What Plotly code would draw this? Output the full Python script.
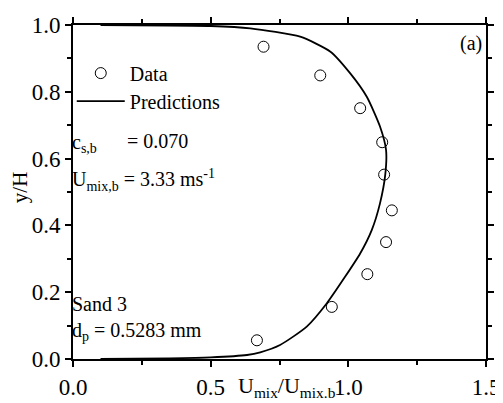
import plotly.graph_objects as go

# Data points
data_x = [0.692, 0.898, 1.043, 1.123, 1.130, 1.158, 1.137, 1.069, 0.940, 0.668]
data_y = [0.935, 0.849, 0.751, 0.649, 0.552, 0.445, 0.350, 0.254, 0.156, 0.056]

# Prediction curve
pred_x = [0.10, 0.35, 0.50, 0.632, 0.68, 0.752, 0.849, 0.922, 0.988, 1.043, 1.085,
          1.115, 1.134, 1.137, 1.115, 1.067, 1.007, 0.935, 0.825, 0.644, 0.50, 0.10]
pred_y = [0.0, 0.002, 0.005, 0.012, 0.02, 0.042, 0.097, 0.167, 0.246, 0.316, 0.386,
          0.466, 0.551, 0.626, 0.696, 0.785, 0.855, 0.92, 0.965, 0.99, 0.997, 1.0]

FONT = "Liberation Serif"

fig = go.Figure()
fig.add_trace(go.Scatter(x=data_x, y=data_y, mode="markers", name="Data", legend="legend",
                         marker=dict(symbol="circle-open", size=11, color="black",
                                     line=dict(width=1, color="black"))))
fig.add_trace(go.Scatter(x=pred_x, y=pred_y, mode="lines", name="Predictions", legend="legend2",
                         line=dict(color="black", width=1.8, shape="spline", smoothing=0.6)))

axis_common = dict(showline=True, linecolor="black", linewidth=2, mirror="allticks",
                   ticks="outside", tickcolor="black", tickwidth=1.5, ticklen=6,
                   showgrid=False, zeroline=False, automargin=False,
                   tickfont=dict(family=FONT, size=23, color="black"))

fig.update_xaxes(range=[0, 1.5], dtick=0.5, tickformat=".1f",
                 minor=dict(dtick=0.25, ticks="outside", ticklen=4, tickcolor="black", tickwidth=1.5),
                 **axis_common)
fig.update_yaxes(range=[0, 1.0], dtick=0.2, tickformat=".1f",
                 minor=dict(dtick=0.1, ticks="outside", ticklen=4, tickcolor="black", tickwidth=1.5),
                 **axis_common)

ann_font = dict(family=FONT, size=20, color="black")
annotations = [
    dict(text="y/H", x=-0.128, y=0.515, xref="paper", yref="paper", textangle=-90,
         xanchor="center", yanchor="middle", showarrow=False,
         font=dict(family=FONT, size=21, color="black")),
    dict(text="U<sub>mix</sub>/U<sub>mix.b</sub>", x=0.395, y=-0.035, xref="paper", yref="paper",
         xanchor="left", yanchor="top", showarrow=False,
         font=dict(family=FONT, size=22, color="black")),
    dict(text="c<sub>s,b</sub>", x=-0.008, y=0.645, xref="paper", yref="paper",
         xanchor="left", yanchor="middle", showarrow=False, font=ann_font),
    dict(text="= 0.070", x=0.125, y=0.652, xref="paper", yref="paper",
         xanchor="left", yanchor="middle", showarrow=False, font=ann_font),
    dict(text="U<sub>mix,b</sub> = 3.33 ms<sup>-1</sup>", x=-0.008, y=0.535, xref="paper", yref="paper",
         xanchor="left", yanchor="middle", showarrow=False, font=ann_font),
    dict(text="Sand 3", x=-0.008, y=0.165, xref="paper", yref="paper",
         xanchor="left", yanchor="middle", showarrow=False, font=ann_font),
    dict(text="d<sub>p</sub> = 0.5283 mm", x=-0.008, y=0.082, xref="paper", yref="paper",
         xanchor="left", yanchor="middle", showarrow=False, font=ann_font),
    dict(text="(a)", x=0.995, y=0.945, xref="paper", yref="paper",
         xanchor="right", yanchor="middle", showarrow=False, font=ann_font),
]

leg_common = dict(xanchor="left", yanchor="middle", bgcolor="rgba(0,0,0,0)",
                  font=ann_font, itemwidth=48, borderwidth=0)

# The page body has an 8px default margin, so the figure is sized to fit the window
fig.update_layout(
    width=495, height=395,
    margin=dict(l=65, r=17, t=17, b=44, autoexpand=False),
    paper_bgcolor="white", plot_bgcolor="white",
    showlegend=True,
    legend=dict(x=-0.003, y=0.856, **leg_common),
    legend2=dict(x=-0.003, y=0.772, **leg_common),
    annotations=annotations,
)

fig.write_html("out.html")
